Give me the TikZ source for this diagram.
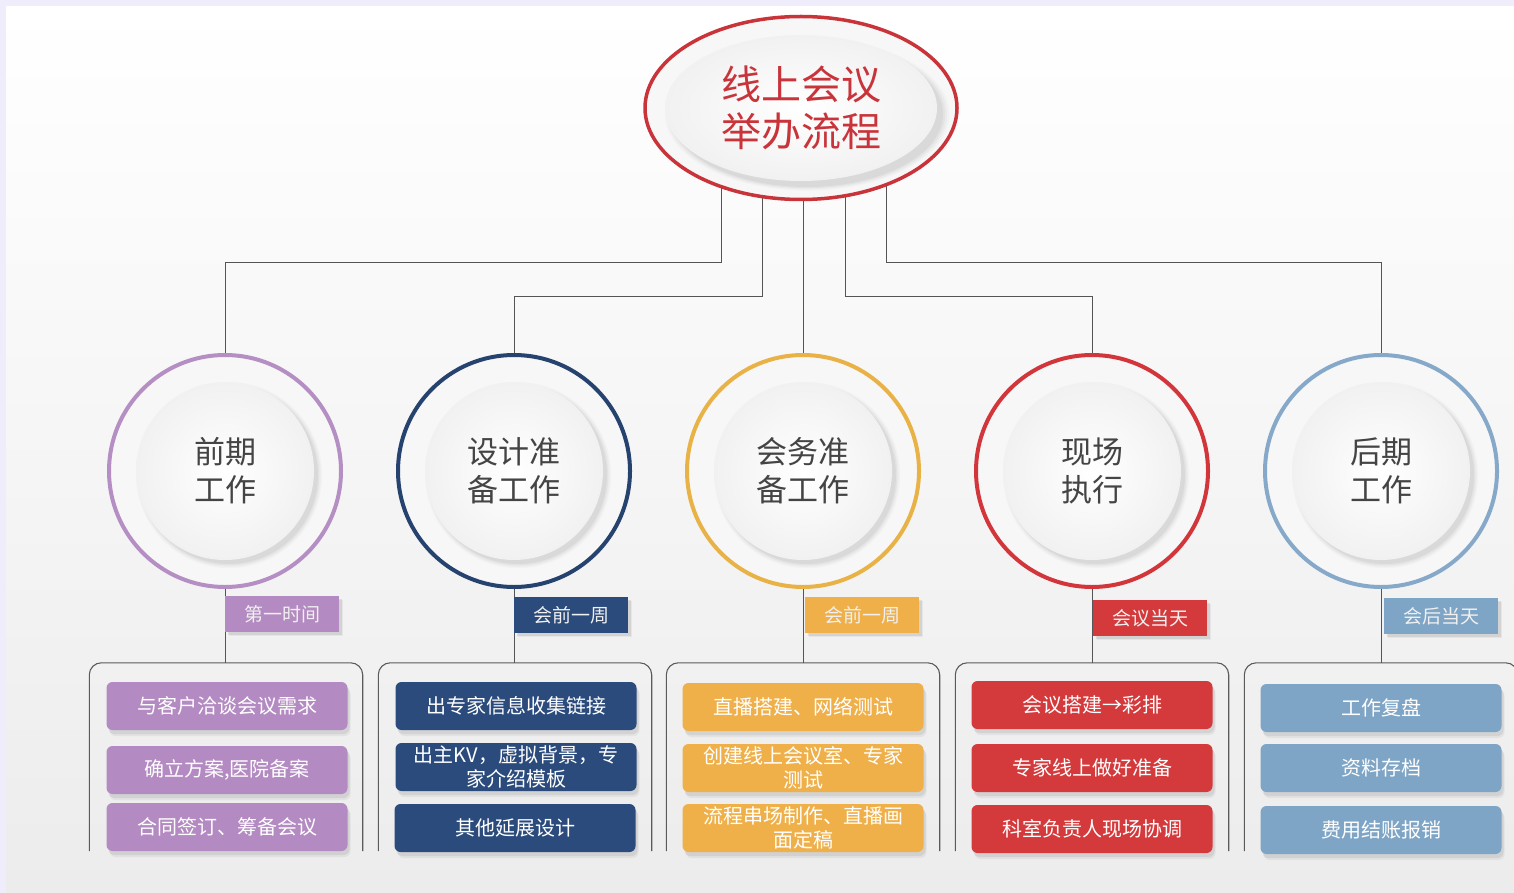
\documentclass[tikz,border=0pt]{standalone}
\usepackage{fontspec}
\newfontfamily\cjk{Noto Sans CJK SC}
\usetikzlibrary{shadows,shapes.geometric}
\pgfdeclarelayer{bg}
\pgfsetlayers{bg,main}
\definecolor{lav}{HTML}{EFEDFC}
\definecolor{bgbot}{HTML}{ECECEC}
\definecolor{linegray}{HTML}{555555}
\definecolor{grpgray}{HTML}{5A5A5A}
\definecolor{tred}{HTML}{C8343A}
\definecolor{phasetext}{HTML}{444444}
\definecolor{ringfill}{HTML}{F7F7F7}
\definecolor{discedge}{HTML}{F1F1F1}
% ring colours
\definecolor{rpur}{HTML}{B58FC3}
\definecolor{rnav}{HTML}{26426F}
\definecolor{rora}{HTML}{E9B246}
\definecolor{rred}{HTML}{D2363B}
\definecolor{rblu}{HTML}{86A9C9}
% fill colours
\definecolor{fpur}{HTML}{B38AC1}
\definecolor{fnav}{HTML}{2B4B7C}
\definecolor{fora}{HTML}{EFB04A}
\definecolor{fred}{HTML}{D43A3C}
\definecolor{fblu}{HTML}{7FA5C6}
\begin{document}
\begin{tikzpicture}[x=1pt,y=-1pt,
  conn/.style={draw=linegray,line width=1pt},
  softshadow/.style={
    drop shadow={shadow xshift=#1,shadow yshift=-#1,shadow scale=1.00,opacity=0.10},
    drop shadow={shadow xshift=#1,shadow yshift=-#1,shadow scale=1.015,opacity=0.07},
    drop shadow={shadow xshift=#1,shadow yshift=-#1,shadow scale=1.03,opacity=0.05},
    drop shadow={shadow xshift=#1,shadow yshift=-#1,shadow scale=1.045,opacity=0.04}},
  ring/.style={circle,minimum size=232pt,inner sep=0pt,line width=4pt,fill=ringfill},
  disc/.style={circle,minimum size=178pt,inner sep=0pt,inner color=white,outer color=discedge,
    softshadow=4pt,
    font=\cjk\fontsize{31}{38}\selectfont,text=phasetext,align=center},
  tagbox/.style={minimum width=114pt,minimum height=36pt,inner sep=0pt,
    font=\cjk\fontsize{19}{21}\selectfont,text=white!88!gray,
    drop shadow={shadow xshift=3pt,shadow yshift=-3pt,opacity=0.18},
    drop shadow={shadow xshift=4pt,shadow yshift=-4pt,opacity=0.10}},
  itembox/.style={rounded corners=6pt,minimum width=241pt,minimum height=48pt,inner sep=0pt,
    align=center,font=\cjk\fontsize{20}{24}\selectfont,text=white,
    drop shadow={shadow xshift=2pt,shadow yshift=-4pt,opacity=0.16},
    drop shadow={shadow xshift=3pt,shadow yshift=-6pt,opacity=0.10}},
  grpbox/.style={minimum width=273pt,minimum height=188pt,inner sep=0pt},
  grp/.style={draw=grpgray,line width=1.1pt,rounded corners=12pt},
]
\useasboundingbox (0,0) rectangle (1514,893);

% ---- title ellipse
\node[ellipse,minimum width=312pt,minimum height=183pt,inner sep=0pt,draw=tred,line width=3.5pt,fill=ringfill] (top) at (801,108) {};
\node[ellipse,minimum width=272pt,minimum height=146pt,inner sep=0pt,inner color=white,outer color=discedge,
  softshadow=6pt,
  font=\cjk\fontsize{40}{47}\selectfont,text=tred,align=center] (topin) at (801,108) {线上会议\\举办流程};
\coordinate (h1) at (721,150);
\coordinate (h2) at (762,150);
\coordinate (h3) at (803,150);
\coordinate (h4) at (845,150);
\coordinate (h5) at (886,150);

% ---- phase circles
\node[ring,draw=rpur] (c1) at (225,471) {};
\node[disc] (d1) at (225,471) {前期\\工作};
\node[ring,draw=rnav] (c2) at (514,471) {};
\node[disc] (d2) at (514,471) {设计准\\备工作};
\node[ring,draw=rora] (c3) at (803,471) {};
\node[disc] (d3) at (803,471) {会务准\\备工作};
\node[ring,draw=rred] (c4) at (1092,471) {};
\node[disc] (d4) at (1092,471) {现场\\执行};
\node[ring,draw=rblu] (c5) at (1381,471) {};
\node[disc] (d5) at (1381,471) {后期\\工作};

% ---- group frames (anchors)
\node[grpbox] (g1) at (226,757) {};
\node[grpbox] (g2) at (515,757) {};
\node[grpbox] (g3) at (803,757) {};
\node[grpbox] (g4) at (1092,757) {};
\node[grpbox] (g5) at (1381,757) {};

% ---- group frames, open at the bottom
\draw[grp] (g1.south west) -- (g1.north west) -- (g1.north east) -- (g1.south east);
\draw[grp] (g2.south west) -- (g2.north west) -- (g2.north east) -- (g2.south east);
\draw[grp] (g3.south west) -- (g3.north west) -- (g3.north east) -- (g3.south east);
\draw[grp] (g4.south west) -- (g4.north west) -- (g4.north east) -- (g4.south east);
\draw[grp] (g5.south west) -- (g5.north west) -- (g5.north east) -- (g5.south east);

% ---- tags
\node[tagbox,fill=fpur] (t1) at (282,614) {第一时间};
\node[tagbox,fill=fnav] (t2) at (571,615) {会前一周};
\node[tagbox,fill=fora] (t3) at (862,615) {会前一周};
\node[tagbox,fill=fred] (t4) at (1150,618) {会议当天};
\node[tagbox,fill=fblu] (t5) at (1441,616) {会后当天};

% ---- items
\node[itembox,fill=fpur] (i11) at (227,706) {与客户洽谈会议需求};
\node[itembox,fill=fpur] (i12) at (227,770) {确立方案,医院备案};
\node[itembox,fill=fpur] (i13) at (227,827) {合同签订、筹备会议};

\node[itembox,fill=fnav] (i21) at (516,706) {出专家信息收集链接};
\node[itembox,fill=fnav] (i22) at (516,767) {出主KV，虚拟背景，专\\家介绍模板};
\node[itembox,fill=fnav] (i23) at (515,828) {其他延展设计};

\node[itembox,fill=fora] (i31) at (803,707) {直播搭建、网络测试};
\node[itembox,fill=fora] (i32) at (803,768) {创建线上会议室、专家\\测试};
\node[itembox,fill=fora] (i33) at (803,828) {流程串场制作、直播画\\面定稿};

\node[itembox,fill=fred] (i41) at (1092,705) {会议搭建→彩排};
\node[itembox,fill=fred] (i42) at (1092,768) {专家线上做好准备};
\node[itembox,fill=fred] (i43) at (1092,829) {科室负责人现场协调};

\node[itembox,fill=fblu] (i51) at (1381,708) {工作复盘};
\node[itembox,fill=fblu] (i52) at (1381,768) {资料存档};
\node[itembox,fill=fblu] (i53) at (1381,830) {费用结账报销};

% ---- background and connectors
\begin{pgfonlayer}{bg}
\fill[lav] (0,0) rectangle (1514,893);
\shade[top color=white,bottom color=bgbot] (6,7) rectangle (1514,893);
\draw[conn] (c1.north) |- (721,262) -- (h1);
\draw[conn] (c2.north) |- (762,296) -- (h2);
\draw[conn] (c3.north) -- (h3);
\draw[conn] (c4.north) |- (845,296) -- (h4);
\draw[conn] (c5.north) |- (886,262) -- (h5);
\draw[conn] (c1.south) -- (225,663);
\draw[conn] (c2.south) -- (514,663);
\draw[conn] (c3.south) -- (803,663);
\draw[conn] (c4.south) -- (1092,663);
\draw[conn] (c5.south) -- (1381,663);
\end{pgfonlayer}
\end{tikzpicture}
\end{document}
